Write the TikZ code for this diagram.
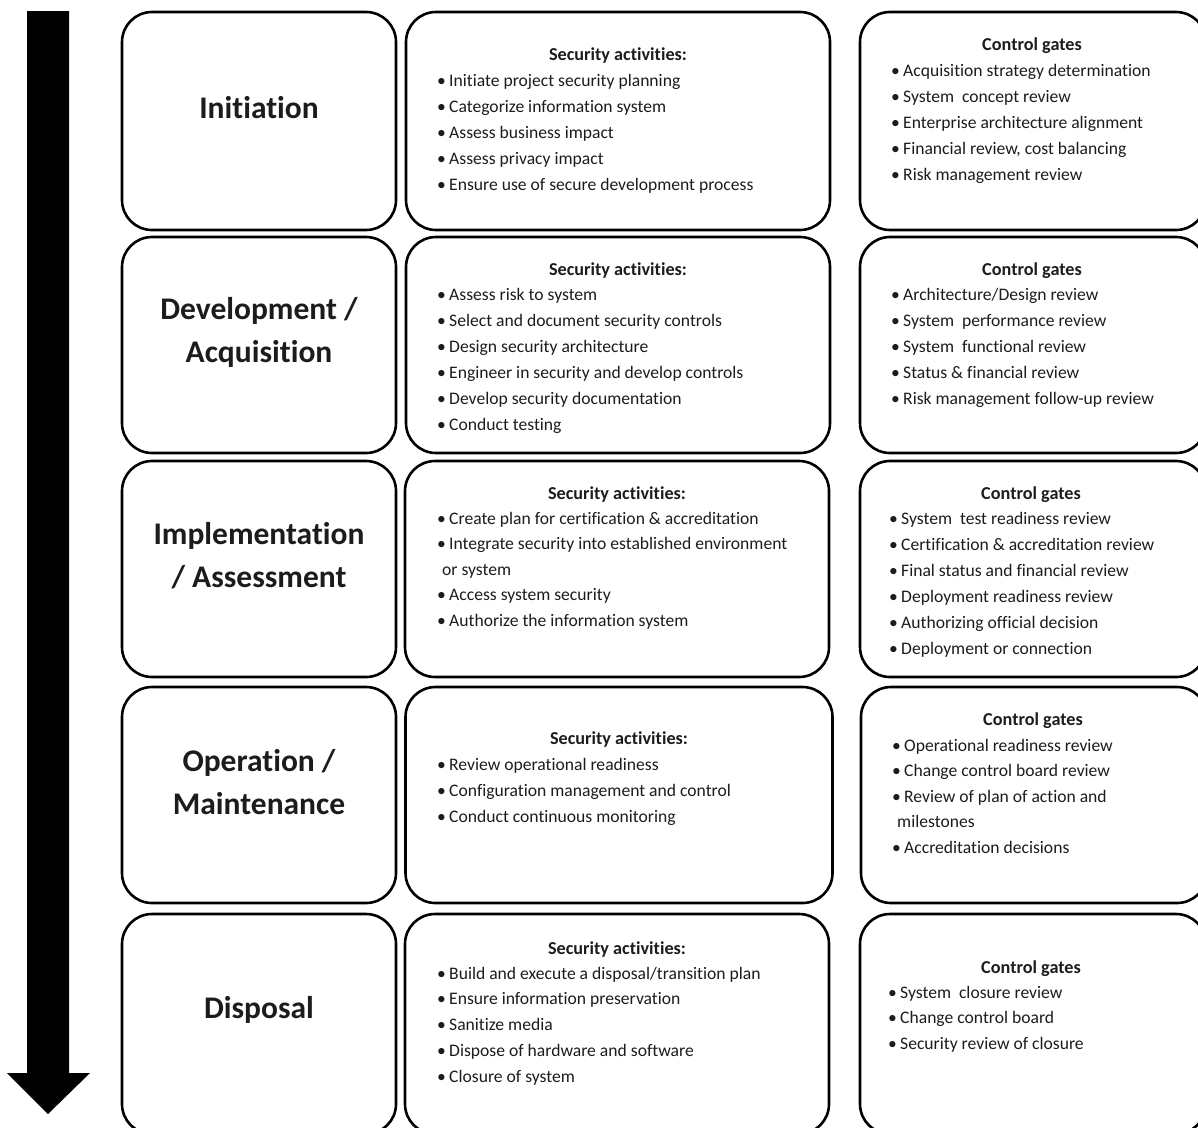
\documentclass[tikz,border=0pt]{standalone}
\usepackage{fontspec}
\setmainfont{Carlito}[Ligatures=NoCommon]
\definecolor{ink}{RGB}{28,28,28}
\newcommand\bu{\makebox[13pt][l]{\hspace{1pt}•}}
\begin{document}
\begin{tikzpicture}[x=1pt,y=-1pt,
  box/.style={draw=black, line width=2.6pt, rounded corners=30pt, inner sep=0pt, outer sep=0pt},
  phase/.style={font=\fontsize{31.5}{43}\selectfont\bfseries, align=center, inner sep=0pt, text=ink},
  head/.style={font=\fontsize{18.2}{26}\selectfont\bfseries, anchor=base, inner sep=0pt, text=ink},
  item/.style={font=\fontsize{17.6}{26}\selectfont, anchor=base west, inner sep=0pt, text=ink}]
\useasboundingbox (0,0) rectangle (1198,1127);
\clip (0,0) rectangle (1198,1127);

% downward timeline arrow
\fill[black] (27,11) -- (69,11) -- (69,1073) -- (90,1073) -- (48,1114)
  -- (7,1073) -- (27,1073) -- cycle;

% phase column
\node[box, minimum width=274, minimum height=218] (p1) at (259,121) {};
\node[box, minimum width=274, minimum height=216] (p2) at (259,345) {};
\node[box, minimum width=274, minimum height=216] (p3) at (259,569) {};
\node[box, minimum width=274, minimum height=216] (p4) at (259,795) {};
\node[box, minimum width=274, minimum height=220] (p5) at (259,1024) {};

% security activities column
\node[box, minimum width=424, minimum height=218] (s1) at (618,121) {};
\node[box, minimum width=424, minimum height=216] (s2) at (618,345) {};
\node[box, minimum width=424, minimum height=216] (s3) at (617,569) {};
\node[box, minimum width=427, minimum height=216] (s4) at (619,795) {};
\node[box, minimum width=424, minimum height=220] (s5) at (617,1024) {};

% control gates column
\node[box, minimum width=346, minimum height=218] (c1) at (1033,121) {};
\node[box, minimum width=346, minimum height=216] (c2) at (1033,345) {};
\node[box, minimum width=346, minimum height=216] (c3) at (1033,569) {};
\node[box, minimum width=346, minimum height=216] (c4) at (1034,795) {};
\node[box, minimum width=346, minimum height=220] (c5) at (1033,1024) {};

% phase names
\node[phase] (t1) at (259,108) {Initiation};
\node[phase] (t2) at (259,332) {Development /\\Acquisition};
\node[phase] (t3) at (259,556) {Implementation\\/ Assessment};
\node[phase] (t4) at (259,782) {Operation /\\Maintenance};
\node[phase] (t5) at (259,1010) {Disposal};

% security activities
\node[head] (sh1) at (618,60) {Security activities:};
\foreach \t [count=\i from 0] in {Initiate project security planning,
  Categorize information system, Assess business impact, Assess privacy impact,
  Ensure use of secure development process}
  \node[item] (sa1-\i) at (436,86+26*\i) {\bu\t};

\node[head] (sh2) at (618,275) {Security activities:};
\foreach \t [count=\i from 0] in {Assess risk to system,
  Select and document security controls, Design security architecture,
  Engineer in security and develop controls, Develop security documentation,
  Conduct testing}
  \node[item] (sa2-\i) at (436,300+26*\i) {\bu\t};

\node[head] (sh3) at (617,499) {Security activities:};
\foreach \t [count=\i from 0] in {\bu Create plan for certification \& accreditation,
  \bu Integrate security into established environment,
  \hspace*{6pt}or system, \bu Access system security,
  \bu Authorize the information system}
  \node[item] (sa3-\i) at (436,524+25.5*\i) {\t};

\node[head] (sh4) at (619,744) {Security activities:};
\foreach \t [count=\i from 0] in {Review operational readiness,
  Configuration management and control, Conduct continuous monitoring}
  \node[item] (sa4-\i) at (436,770+26*\i) {\bu\t};

\node[head] (sh5) at (617,954) {Security activities:};
\foreach \t [count=\i from 0] in {Build and execute a disposal/transition plan,
  Ensure information preservation, Sanitize media,
  Dispose of hardware and software, Closure of system}
  \node[item] (sa5-\i) at (436,979+25.8*\i) {\bu\t};

% control gates
\node[head] (ch1) at (1032,50) {Control gates};
\foreach \t [count=\i from 0] in {Acquisition strategy determination,
  System\ \ concept review, Enterprise architecture alignment,
  {Financial review, cost balancing}, Risk management review}
  \node[item] (cg1-\i) at (890,76+26*\i) {\bu\t};

\node[head] (ch2) at (1032,275) {Control gates};
\foreach \t [count=\i from 0] in {Architecture/Design review,
  System\ \ performance review, System\ \ functional review,
  Status \& financial review, Risk management follow-up review}
  \node[item] (cg2-\i) at (890,300+26*\i) {\bu\t};

\node[head] (ch3) at (1031,499) {Control gates};
\foreach \t [count=\i from 0] in {System\ \ test readiness review,
  Certification \& accreditation review, Final status and financial review,
  Deployment readiness review, Authorizing official decision,
  Deployment or connection}
  \node[item] (cg3-\i) at (888,524+26*\i) {\bu\t};

\node[head] (ch4) at (1033,725) {Control gates};
\foreach \t [count=\i from 0] in {\bu Operational readiness review,
  \bu Change control board review, \bu Review of plan of action and,
  \hspace*{6pt}milestones, \bu Accreditation decisions}
  \node[item] (cg4-\i) at (891,751+25.5*\i) {\t};

\node[head] (ch5) at (1031,973) {Control gates};
\foreach \t [count=\i from 0] in {System\ \ closure review,
  Change control board, Security review of closure}
  \node[item] (cg5-\i) at (887,998+25.5*\i) {\bu\t};
\end{tikzpicture}
\end{document}
